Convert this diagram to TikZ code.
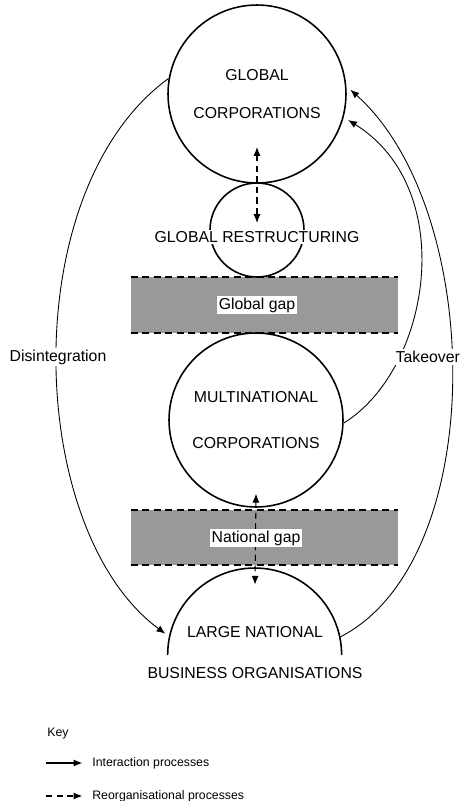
\documentclass[tikz,border=0pt]{standalone}
\usepackage{fontspec}
\setmainfont{Liberation Sans}
\usetikzlibrary{arrows.meta}

\begin{document}
\begin{tikzpicture}[x=0.02cm, y=-0.02cm,
    >={Latex[length=5pt,width=4pt]},
    org/.style={draw, circle, line width=0.9pt, inner sep=0pt, align=center},
    gapband/.style={fill=black!40},
    gapedge/.style={line width=1.1pt, dash pattern=on 4pt off 2.5pt},
    interact/.style={line width=0.5pt, ->},
    reorg/.style={line width=0.6pt, dash pattern=on 3.5pt off 2.5pt},
    tag/.style={fill=white, inner sep=1pt}]
\tikzstyle{every node}+=[font=\fontsize{9}{10.8}\selectfont]
\useasboundingbox (0,0) rectangle (462,801);

\fill[gapband] (131,277) rectangle (398,333);
\fill[gapband] (131,510) rectangle (398,565);
\draw[gapedge] (131,277) -- (398,277);
\draw[gapedge] (131,333) -- (398,333);
\draw[gapedge] (131,510) -- (398,510);
\draw[gapedge] (131,565) -- (398,565);

\node[org, minimum size=3.56cm] (gc) at (257,94) {GLOBAL\\[11pt]CORPORATIONS};
\node[org, minimum size=1.88cm] (gr) at (257,230) {};
\node[org, minimum size=3.48cm] (mc) at (256,420) {MULTINATIONAL\\[15.4pt]CORPORATIONS};
\node[circle, minimum size=3.48cm, inner sep=0pt] (ln) at (255,655) {};
\draw[line width=0.9pt] (ln.west) arc[start angle=180, end angle=0, radius=1.74cm];

\draw[reorg, <->] ([yshift=-1.06cm]gc.center) -- ([yshift=0.14cm]gr.center);
\draw[reorg, <->] ([yshift=0.28cm]mc.south) -- ([yshift=-0.34cm]ln.north);

\node[tag] (grt) at (257,237) {GLOBAL RESTRUCTURING};
\node[tag] (gg) at (257,305) {Global gap};
\node[tag] (ng) at (256,538) {National gap};
\node (lnt) at (255,632) {LARGE NATIONAL};
\node (bo) at (255,673) {BUSINESS ORGANISATIONS};

\draw[interact, shorten >=3pt] (gc.170) .. controls (15,190) and (25,530) .. (ln.168);
\draw[interact, shorten >=3pt] (ln.12) .. controls (490,560) and (485,210) .. (gc.5);
\draw[interact, shorten >=3pt] (mc.-2) .. controls (430,370) and (460,190) .. (gc.-15);
\node[tag] (dis) at (58,357) {Disintegration};
\node[tag, anchor=east] (tko) at (462,357) {Takeover};

\tikzstyle{every node}+=[font=\fontsize{7}{8.4}\selectfont]
\node[anchor=west, inner sep=0pt] (key) at (47,734) {Key};
\node[anchor=west, inner sep=0pt] (kint) at (92,763) {Interaction processes};
\node[anchor=west, inner sep=0pt] (kreo) at (92,796) {Reorganisational processes};
\coordinate (kia) at (46,763);
\coordinate (kra) at (46,796);
\draw[interact, line width=0.6pt, shorten >=5.5pt] (kia) -- (kint.west);
\draw[reorg, ->, shorten >=5.5pt] (kra) -- (kreo.west);
\end{tikzpicture}
\end{document}
